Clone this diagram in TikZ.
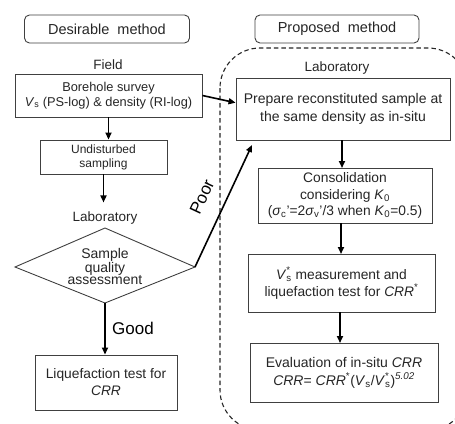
\documentclass[tikz,border=0pt]{standalone}
\usepackage{fontspec}
\setmainfont{Liberation Sans}
\usetikzlibrary{arrows.meta,calc}
\newcommand{\Vs}{\textit{V}\textsubscript{s}}
\newcommand{\Vss}{\textit{V}\makebox[0pt][l]{\textsuperscript{*}}\textsubscript{s}}
\begin{document}
\begin{tikzpicture}[x=1pt,y=-1pt,
  box/.style={draw=black!75,line width=0.9pt,align=center,inner sep=0pt,text=black!85},
  titlebox/.style={box,rounded corners=5pt,font=\fontsize{14.5}{16}\selectfont},
  lbl/.style={font=\fontsize{13.5}{15}\selectfont,text=black!85},
  arr/.style={-{Triangle[width=6pt,length=7pt]},line width=1.6pt,black},
  dashreg/.style={draw=black!85,line width=1.1pt,dash pattern=on 4.5pt off 3pt,rounded corners=40pt}]
\clip (0,0) rectangle (455,423);
\fill[white] (0,0) rectangle (455,423);
% dashed region
\draw[dashreg] (220,48) rectangle (468,430);
% titles
\node[titlebox,minimum width=165pt,minimum height=28pt] (desire) at (107,29) {Desirable\ \ method};
\node[titlebox,minimum width=164pt,minimum height=28pt] (proposed) at (337,29) {Proposed\ \ method};
% left column
\node[lbl] (field) at (108,65) {Field};
\node[box,minimum width=187pt,minimum height=43pt,font=\fontsize{12.8}{14.5}\selectfont] (bore) at (108.5,95.5) {Borehole survey\\ \Vs{} (PS-log) \& density (RI-log)};
\node[box,minimum width=127pt,minimum height=34pt,font=\fontsize{12}{14}\selectfont] (undist) at (103.5,157) {Undisturbed\\ sampling};
\node[lbl] (lab1) at (105,218) {Laboratory};
\coordinate (dT) at (105,228);
\coordinate (dL) at (15,267);
\coordinate (dR) at (195,267);
\coordinate (dB) at (105,303);
\draw[draw=black!75,line width=0.9pt] (dT) -- (dR) -- (dB) -- (dL) -- cycle;
\node[align=center,font=\fontsize{14}{12.8}\selectfont,text=black!85] (sqa) at (105,266.5) {Sample\\ quality\\ assessment};
\node[box,minimum width=142pt,minimum height=55pt,font=\fontsize{13.8}{17}\selectfont] (liq) at (106,382.5) {Liquefaction test for\\ \textit{CRR}};
% right column
\node[lbl] (lab2) at (337,68) {Laboratory};
\node[box,minimum width=214pt,minimum height=62pt,font=\fontsize{14}{18}\selectfont] (prep) at (343,109) {Prepare reconstituted sample at\\ the same density as in-situ};
\node[box,minimum width=174pt,minimum height=55pt,font=\fontsize{13.8}{16.5}\selectfont] (cons) at (345,195.5) {Consolidation\\ considering \textit{K}\textsubscript{0}\\ (\textit{σ}\textsubscript{c}'=2\textit{σ}\textsubscript{v}'/3 when \textit{K}\textsubscript{0}=0.5)};
\node[box,minimum width=187pt,minimum height=58pt,font=\fontsize{13.8}{17}\selectfont] (vsm) at (341.5,283) {\Vss{} measurement and\\ liquefaction test for \textit{CRR}\textsuperscript{*}};
\node[box,minimum width=188pt,minimum height=59pt,font=\fontsize{14}{18}\selectfont] (eval) at (344,372.5) {Evaluation of in-situ \textit{CRR}\\ \textit{CRR}= \textit{CRR}\textsuperscript{*}(\Vs/\Vss)\textsuperscript{\textit{5.02}}};
% arrows
\draw[arr] (bore.south) -- (bore.south |- undist.north);
\draw[arr] (undist.south) -- ++(0,28);
\draw[arr] (dB) -- (dB |- liq.north) node[midway,right=3pt,font=\fontsize{17}{19}\selectfont,text=black] (good) {Good};
\coordinate (poorEnd) at (252,145);
\draw[arr] (dR) -- (poorEnd);
\node[rotate=65,font=\fontsize{17}{19}\selectfont,text=black] (poor) at (202,197) {Poor};
\coordinate (prepIn) at ($(prep.north west)!0.4!(prep.south west)$);
\draw[arr] (bore.east) -- (prepIn);
\draw[arr] (342,140) -- (342,168);
\draw[arr] (341,223) -- (341,254);
\draw[arr] (340,312) -- (340,343);
\end{tikzpicture}
\end{document}
